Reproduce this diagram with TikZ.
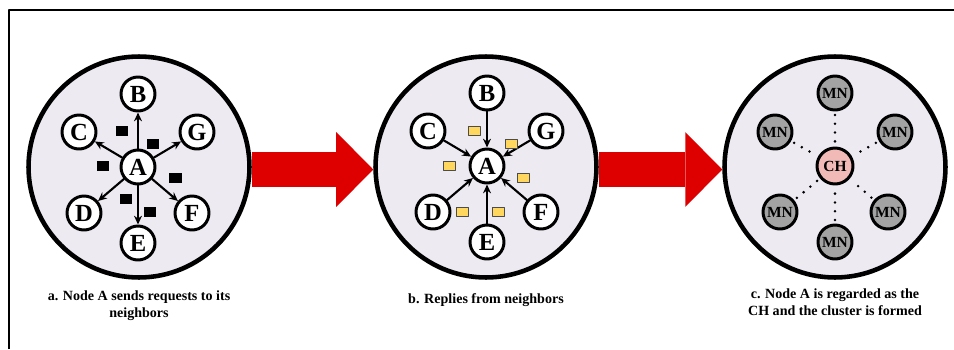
\documentclass[tikz,border=0pt]{standalone}
\usepackage{fontspec}
\setmainfont{Liberation Serif}
\usetikzlibrary{arrows.meta}
\definecolor{zonefill}{RGB}{238,234,242}
\definecolor{mnfill}{RGB}{163,163,163}
\definecolor{chfill}{RGB}{242,186,182}
\definecolor{msgfill}{RGB}{255,215,95}
\definecolor{bigred}{RGB}{222,0,0}
\begin{document}
\begin{tikzpicture}[>={Stealth[length=5pt,width=4.5pt]},line join=round,line cap=round,x=0.02cm,y=-0.02cm,
	zone/.style={circle,draw,fill=zonefill,line width=2.6pt,minimum size=4.42cm,inner sep=0pt},
	peer/.style={circle,draw,fill=white,line width=1.7pt,minimum size=0.68cm,inner sep=0pt,font=\fontsize{14}{14}\selectfont\bfseries},
	member/.style={peer,fill=mnfill,font=\fontsize{8.8}{8.8}\selectfont\bfseries},
	head/.style={peer,fill=chfill,minimum size=0.72cm,font=\fontsize{8.8}{8.8}\selectfont\bfseries},
	req/.style={fill=black,minimum width=0.26cm,minimum height=0.21cm,inner sep=0pt},
	rep/.style={draw=black!70,fill=msgfill,line width=0.4pt,minimum width=0.24cm,minimum height=0.19cm,inner sep=0pt},
	link/.style={->,line width=1.2pt},
	tie/.style={line width=1.6pt,dash pattern=on 0pt off 5pt,shorten <=2pt,shorten >=2pt},
	bigarrow/.style={draw=bigred,line width=0.7cm,line cap=butt,-{Triangle[length=0.74cm,width=1.5cm,line width=0pt]}},
	caption/.style={align=center,font=\fontsize{8}{9.6}\selectfont\bfseries}]
	\useasboundingbox (0,0) rectangle (954,349);
	\draw[line width=1.7pt,line cap=butt] (9,349)--(9,10)--(954,10);
	\node[zone] (zoneA) at (139,167) {};
	\node[zone] (zoneB) at (486,167) {};
	\node[zone] (zoneC) at (835,167) {};
	\node[peer] (aA) at (138,167) {A};
	\foreach \n/\dx/\dy in {B/0/-73,C/-59/-35,G/59/-35,D/-54/46,F/54/46,E/0/76}{
		\node[peer] (a\n) at (138+\dx,167+\dy) {\n};
		\draw[link] (aA)--(a\n);
	}
	\foreach \x/\y [count=\i] in {122/131,153/144,103/166,175/178,126/199,150/212}{
		\node[req] (req\i) at (\x,\y) {};
	}
	\node[peer] (bA) at (487,166) {A};
	\foreach \n/\dx/\dy in {B/0/-73,C/-59/-35,G/59/-35,D/-54/46,F/54/46,E/0/76}{
		\node[peer] (b\n) at (487+\dx,166+\dy) {\n};
		\draw[link] (b\n)--(bA);
	}
	\foreach \x/\y [count=\i] in {474/131,511/144,449/166,523/178,462/212,498/212}{
		\node[rep] (rep\i) at (\x,\y) {};
	}
	\node[head] (ch) at (835,166) {CH};
	\foreach \dx/\dy [count=\i] in {0/-73,-60/-34,60/-34,-55/46,53/46,0/76}{
		\node[member] (mn\i) at (835+\dx,166+\dy) {MN};
		\draw[tie] (mn\i)--(ch);
	}
	\draw[bigarrow] ([yshift=-0.05cm]zoneA.east)--([yshift=-0.05cm]zoneB.west);
	\draw[bigarrow] ([yshift=-0.05cm]zoneB.east)--([yshift=-0.05cm]zoneC.west);
	\node[caption] (capA) at (139,306) {a. Node A sends requests to its\\neighbors};
	\node[caption] (capB) at (486,300) {b. Replies from neighbors};
	\node[caption] (capC) at (835,302) {c. Node A is regarded as the\\CH and the cluster is formed};
\end{tikzpicture}
\end{document}
